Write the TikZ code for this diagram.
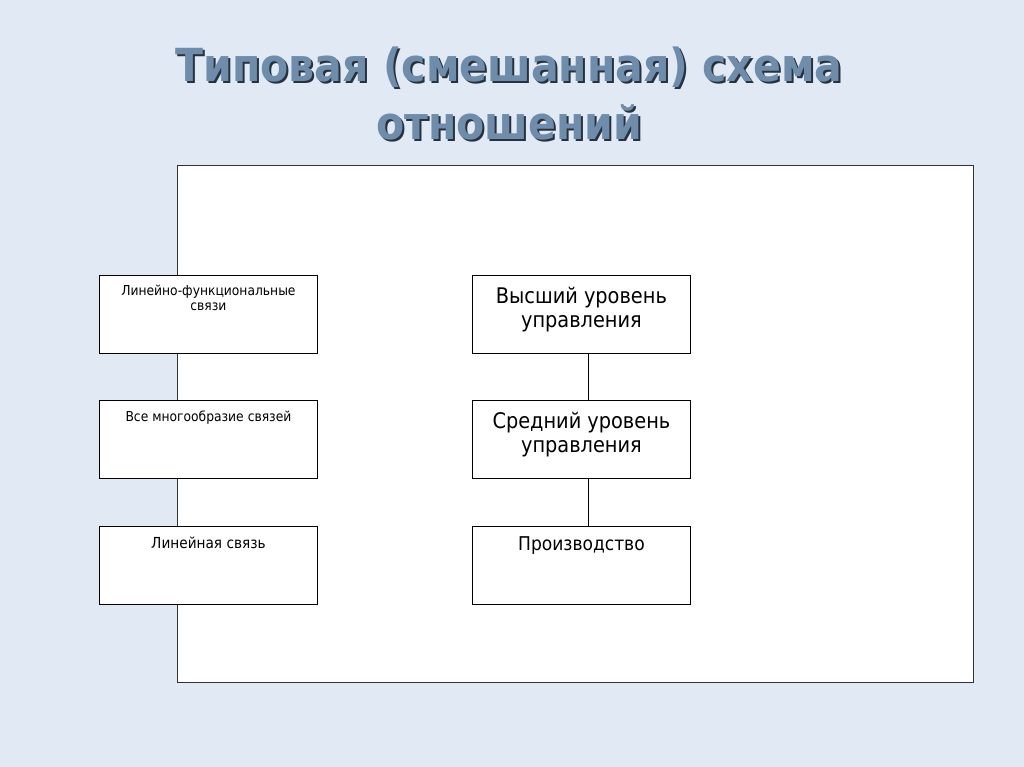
\documentclass[tikz,border=0pt]{standalone}
\usepackage{fontspec}
\setmainfont{DejaVu Sans Condensed}
\usetikzlibrary{positioning}

\definecolor{bgblue}{HTML}{E1E9F5}
\definecolor{titleblue}{HTML}{6F8DAB}
\definecolor{titledark}{HTML}{26323F}
\definecolor{framegray}{HTML}{333333}

\tikzset{
  linkbox/.style={draw=black, fill=white, line width=0.9pt, minimum width=218pt, minimum height=78pt, inner sep=0pt, anchor=north west},
  smalltext/.style={font=\fontsize{13.7}{15}\selectfont, align=center, anchor=base},
  bigtext/.style={font=\fontsize{21.5}{24}\selectfont, align=center, anchor=base},
  titletext/.style={font=\fontsize{45.6}{56}\selectfont\bfseries, text=titleblue, anchor=base, inner sep=0pt},
  titleshade/.style={titletext, text=titledark}
}

\begin{document}
\begin{tikzpicture}[x=1pt,y=-1pt]
  % background
  \fill[bgblue] (0,0) rectangle (1024,767);
  \useasboundingbox (0,0) rectangle (1024,767);

  % title
  \node[titleshade] (t1s) at (511,84) {Типовая (смешанная) схема};
  \node[titletext]  (t1)  at (509,82) {Типовая (смешанная) схема};
  \node[titleshade] (t2s) at (511,142) {отношений};
  \node[titletext]  (t2)  at (509,140) {отношений};

  % frame
  \node[draw=framegray, fill=white, line width=0.9pt, minimum width=796pt, minimum height=517pt, inner sep=0pt, anchor=north west] (frame) at (177,165) {};

  % left column
  \node[linkbox] (lf)   at (99,275) {};
  \node[linkbox] (all)  at (99,400) {};
  \node[linkbox] (line) at (99,526) {};
  \node[smalltext] at ([yshift=-35pt]lf.north)   {Линейно-функциональные\\связи};
  \node[smalltext] at ([yshift=-21pt]all.north)  {Все многообразие связей};
  \node[smalltext, font=\fontsize{15.2}{17}\selectfont] at ([yshift=-22pt]line.north) {Линейная связь};

  % right column
  \node[linkbox] (top)  at (472,275) {};
  \node[linkbox] (mid)  at (472,400) {};
  \node[linkbox] (prod) at (472,526) {};
  \node[bigtext] at ([yshift=-52pt]top.north)  {Высший уровень\\управления};
  \node[bigtext] at ([yshift=-52pt]mid.north)  {Средний уровень\\управления};
  \node[bigtext, font=\fontsize{19}{21}\selectfont] at ([yshift=-24pt]prod.north) {Производство};

  \draw[line width=0.9pt] ([xshift=7pt]top.south) -- ([xshift=7pt]mid.north);
  \draw[line width=0.9pt] ([xshift=7pt]mid.south) -- ([xshift=7pt]prod.north);
\end{tikzpicture}
\end{document}
